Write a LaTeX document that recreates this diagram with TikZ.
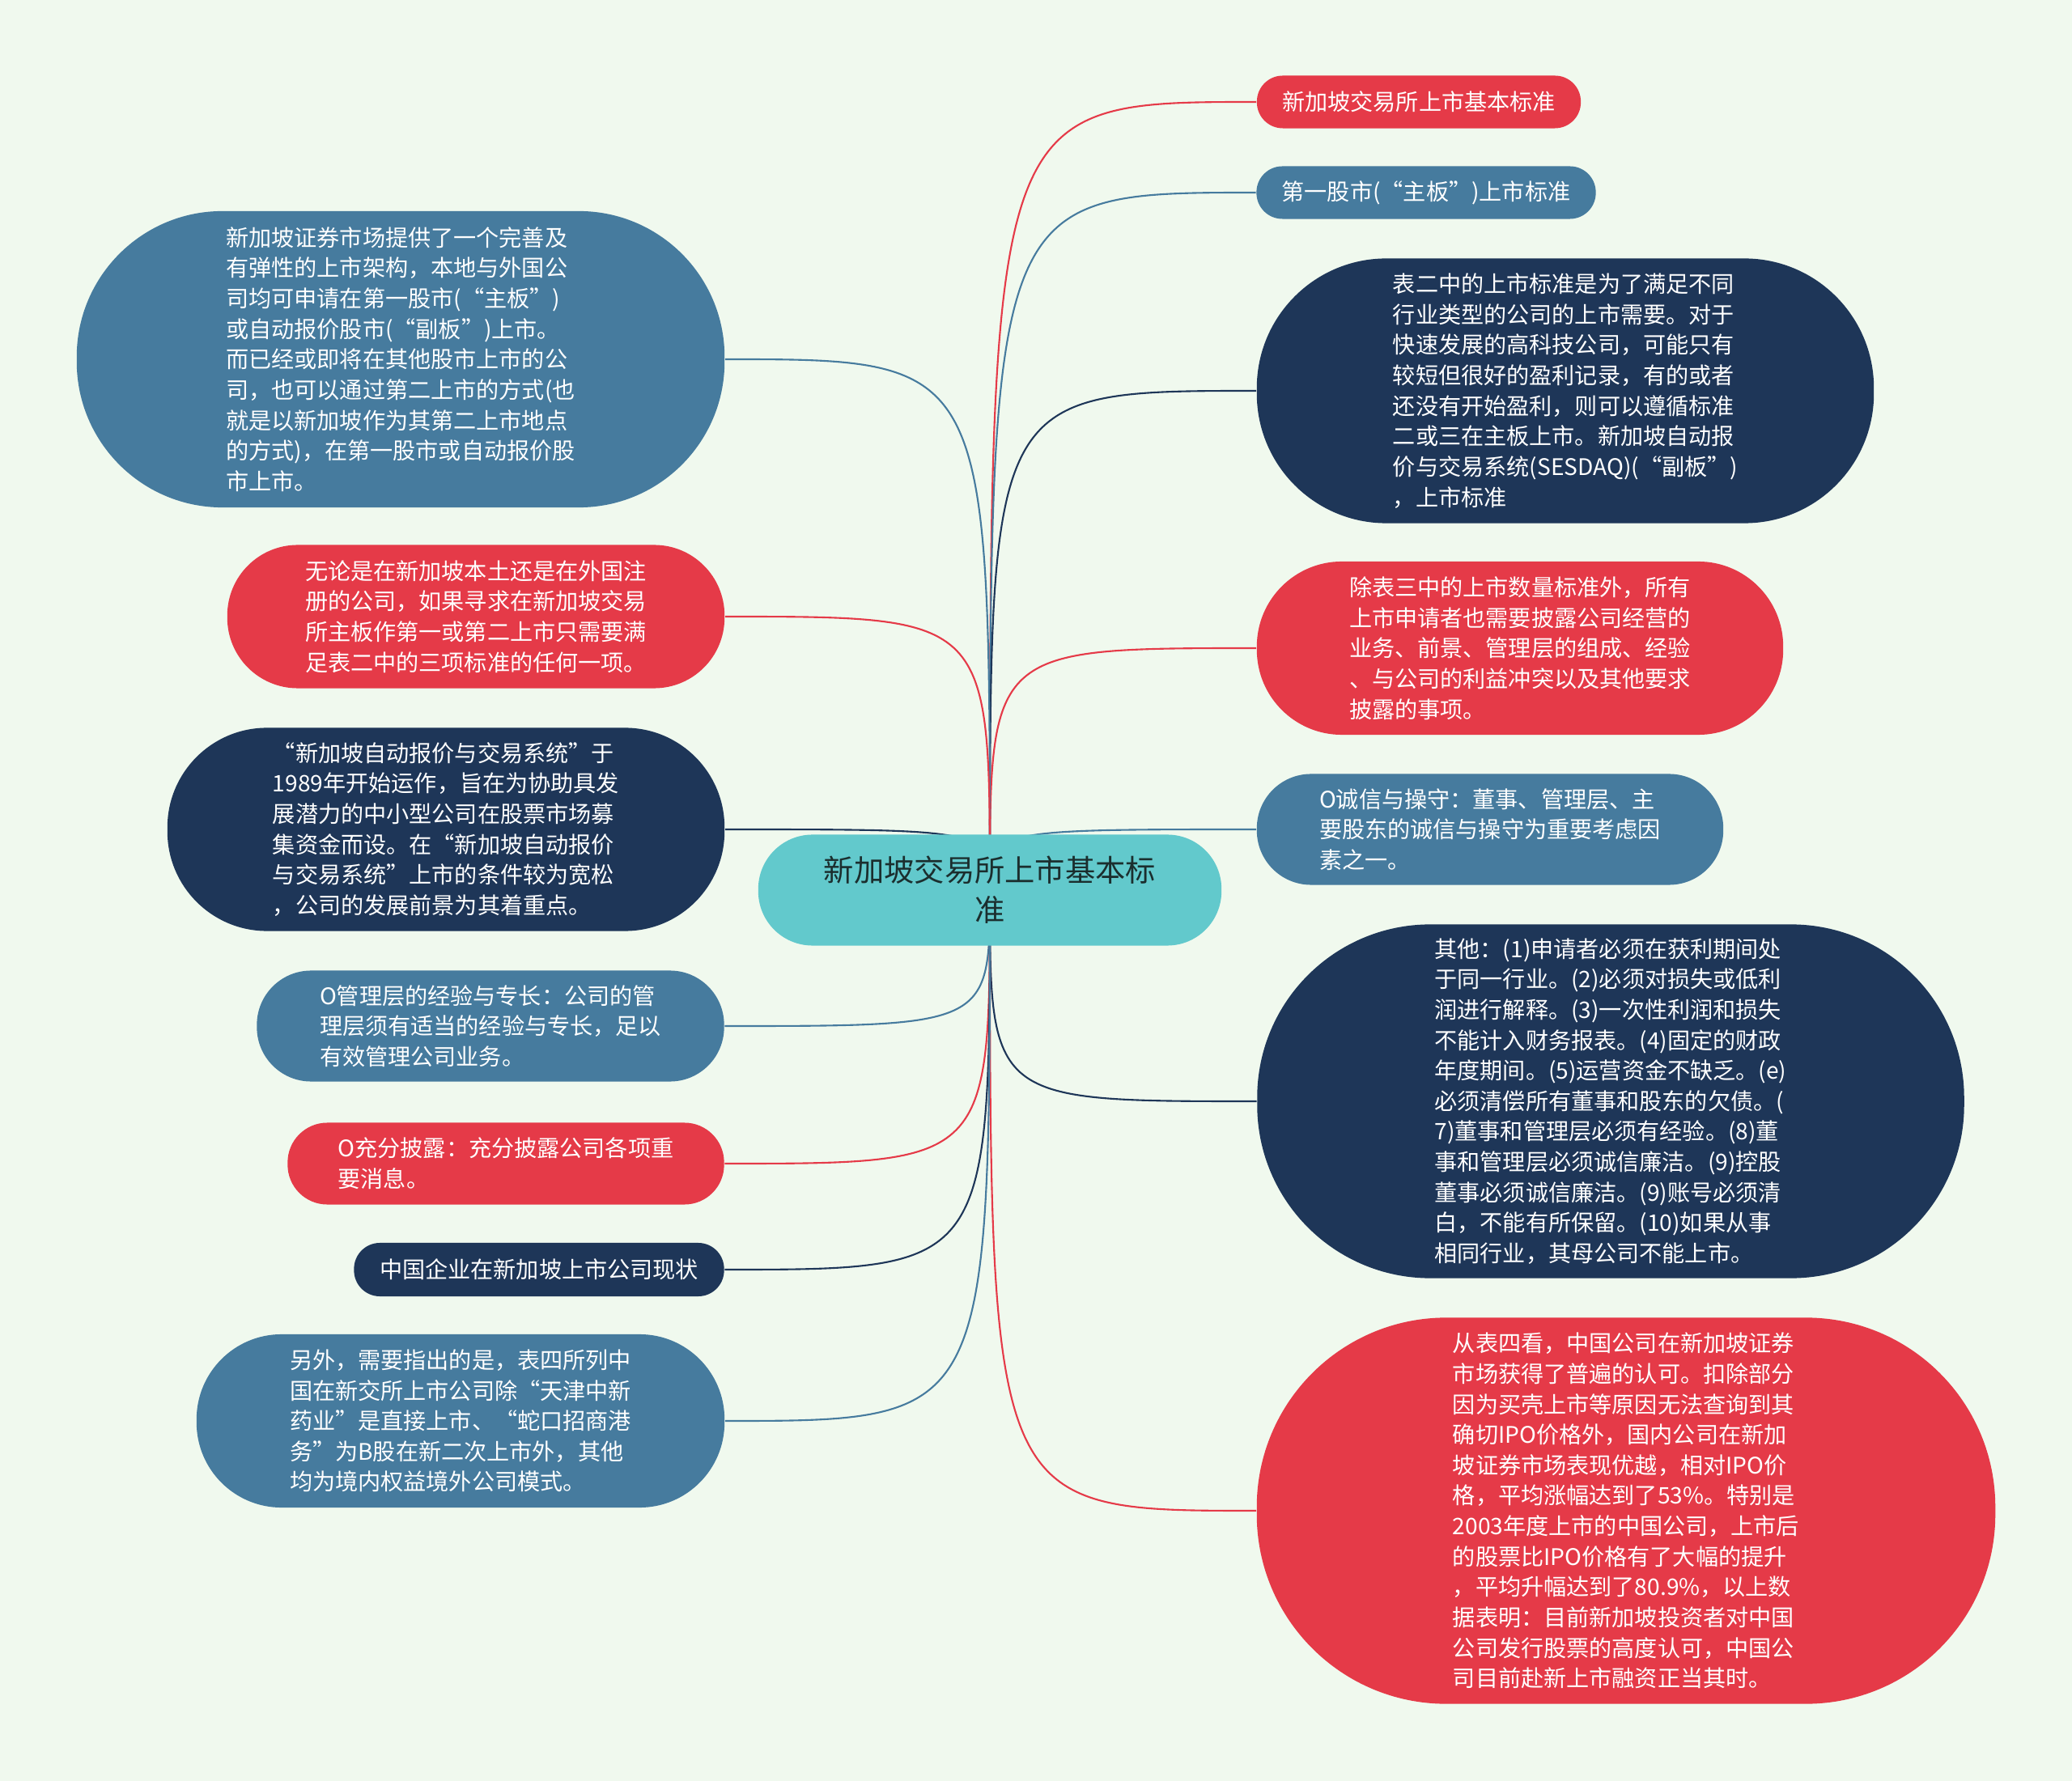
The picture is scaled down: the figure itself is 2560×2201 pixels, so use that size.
\documentclass[tikz,border=0pt]{standalone}
\usepackage{fontspec}
\setmainfont{Noto Sans CJK SC}
\usepackage{xcolor}
\usepackage{tikz}
\usetikzlibrary{backgrounds,positioning}
\definecolor{bgmint}{HTML}{F0F9EE}
\definecolor{mapred}{HTML}{E53A48}
\definecolor{mapblue}{HTML}{467B9E}
\definecolor{mapnavy}{HTML}{1E3658}
\definecolor{mapteal}{HTML}{62C9CC}
\definecolor{topicink}{HTML}{1B2E2E}
\tikzset{
  leafbox/.style={
    inner sep=0pt,
    align=left,
    text=white,
    font=\fontsize{8}{10.7}\selectfont
  },
  redbox/.style={leafbox, fill=mapred},
  bluebox/.style={leafbox, fill=mapblue},
  navybox/.style={leafbox, fill=mapnavy},
  topicbox/.style={
    inner sep=0pt,
    align=center,
    fill=mapteal,
    text=topicink,
    font=\fontsize{10.6}{14}\selectfont
  },
  link/.style={line width=0.6pt}
}

\begin{document}
\begin{tikzpicture}[x=0.01cm, y=-0.01cm]
\useasboundingbox (0,0) rectangle (2560,2201);

% centre
\node[topicbox, minimum width=5.72cm, minimum height=1.37cm, rounded corners=0.67cm] (centre) at (1223,1100) {新加坡交易所上市基本标\\准};

% right side
\node[redbox, minimum width=4.00cm, minimum height=0.65cm, rounded corners=0.32cm] (r1) at (1753,126) {新加坡交易所上市基本标准};
\node[bluebox, minimum width=4.19cm, minimum height=0.65cm, rounded corners=0.32cm] (r2) at (1762,238) {第一股市(“主板”)上市标准};
\node[navybox, minimum width=7.62cm, minimum height=3.27cm, rounded corners=1.6cm] (r3) at (1934,483) {表二中的上市标准是为了满足不同\\行业类型的公司的上市需要。对于\\快速发展的高科技公司，可能只有\\较短但很好的盈利记录，有的或者\\还没有开始盈利，则可以遵循标准\\二或三在主板上市。新加坡自动报\\价与交易系统(SESDAQ)(“副板”)\\，上市标准};
\node[redbox, minimum width=6.50cm, minimum height=2.14cm, rounded corners=1.05cm] (r4) at (1878,801) {除表三中的上市数量标准外，所有\\上市申请者也需要披露公司经营的\\业务、前景、管理层的组成、经验\\、与公司的利益冲突以及其他要求\\披露的事项。};
\node[bluebox, minimum width=5.76cm, minimum height=1.37cm, rounded corners=0.67cm] (r5) at (1841,1025) {O诚信与操守：董事、管理层、主\\要股东的诚信与操守为重要考虑因\\素之一。};
\node[navybox, minimum width=8.73cm, minimum height=4.37cm, rounded corners=2.14cm] (r6) at (1990,1361) {其他：(1)申请者必须在获利期间处\\于同一行业。(2)必须对损失或低利\\润进行解释。(3)一次性利润和损失\\不能计入财务报表。(4)固定的财政\\年度期间。(5)运营资金不缺乏。(e)\\必须清偿所有董事和股东的欠债。(\\7)董事和管理层必须有经验。(8)董\\事和管理层必须诚信廉洁。(9)控股\\董事必须诚信廉洁。(9)账号必须清\\白，不能有所保留。(10)如果从事\\相同行业，其母公司不能上市。};
\node[redbox, minimum width=9.12cm, minimum height=4.77cm, rounded corners=2.34cm] (r7) at (2009,1867) {从表四看，中国公司在新加坡证券\\市场获得了普遍的认可。扣除部分\\因为买壳上市等原因无法查询到其\\确切IPO价格外，国内公司在新加\\坡证券市场表现优越，相对IPO价\\格，平均涨幅达到了53\%。特别是\\2003年度上市的中国公司，上市后\\的股票比IPO价格有了大幅的提升\\，平均升幅达到了80.9\%，以上数\\据表明：目前新加坡投资者对中国\\公司发行股票的高度认可，中国公\\司目前赴新上市融资正当其时。};

% left side
\node[bluebox, minimum width=8.00cm, minimum height=3.66cm, rounded corners=1.8cm] (l1) at (495,444) {新加坡证券市场提供了一个完善及\\有弹性的上市架构，本地与外国公\\司均可申请在第一股市(“主板”)\\或自动报价股市(“副板”)上市。\\而已经或即将在其他股市上市的公\\司，也可以通过第二上市的方式(也\\就是以新加坡作为其第二上市地点\\的方式)，在第一股市或自动报价股\\市上市。};
\node[redbox, minimum width=6.14cm, minimum height=1.77cm, rounded corners=0.87cm] (l2) at (588,762) {无论是在新加坡本土还是在外国注\\册的公司，如果寻求在新加坡交易\\所主板作第一或第二上市只需要满\\足表二中的三项标准的任何一项。};
\node[navybox, minimum width=6.88cm, minimum height=2.51cm, rounded corners=1.23cm] (l3) at (551,1025) {“新加坡自动报价与交易系统”于\\1989年开始运作，旨在为协助具发\\展潜力的中小型公司在股票市场募\\集资金而设。在“新加坡自动报价\\与交易系统”上市的条件较为宽松\\，公司的发展前景为其着重点。};
\node[bluebox, minimum width=5.77cm, minimum height=1.37cm, rounded corners=0.67cm] (l4) at (606,1268) {O管理层的经验与专长：公司的管\\理层须有适当的经验与专长，足以\\有效管理公司业务。};
\node[redbox, minimum width=5.39cm, minimum height=1.01cm, rounded corners=0.49cm] (l5) at (625,1438) {O充分披露：充分披露公司各项重\\要消息。};
\node[navybox, minimum width=4.57cm, minimum height=0.66cm, rounded corners=0.32cm] (l6) at (666,1569) {中国企业在新加坡上市公司现状};
\node[bluebox, minimum width=6.52cm, minimum height=2.14cm, rounded corners=1.05cm] (l7) at (569,1756) {另外，需要指出的是，表四所列中\\国在新交所上市公司除“天津中新\\药业”是直接上市、“蛇口招商港\\务”为B股在新二次上市外，其他\\均为境内权益境外公司模式。};

\begin{scope}[on background layer]
\fill[bgmint] (0,0) rectangle (2560,2201);
\draw[link, mapred] (centre.center) .. controls (centre.center |- r1.west) .. (r1.west);
\draw[link, mapblue] (centre.center) .. controls (centre.center |- r2.west) .. (r2.west);
\draw[link, mapnavy] (centre.center) .. controls (centre.center |- r3.west) .. (r3.west);
\draw[link, mapred] (centre.center) .. controls (centre.center |- r4.west) .. (r4.west);
\draw[link, mapblue] (centre.center) .. controls (centre.center |- r5.west) .. (r5.west);
\draw[link, mapnavy] (centre.center) .. controls (centre.center |- r6.west) .. (r6.west);
\draw[link, mapred] (centre.center) .. controls (centre.center |- r7.west) .. (r7.west);
\draw[link, mapblue] (centre.center) .. controls (centre.center |- l1.east) .. (l1.east);
\draw[link, mapred] (centre.center) .. controls (centre.center |- l2.east) .. (l2.east);
\draw[link, mapnavy] (centre.center) .. controls (centre.center |- l3.east) .. (l3.east);
\draw[link, mapblue] (centre.center) .. controls (centre.center |- l4.east) .. (l4.east);
\draw[link, mapred] (centre.center) .. controls (centre.center |- l5.east) .. (l5.east);
\draw[link, mapnavy] (centre.center) .. controls (centre.center |- l6.east) .. (l6.east);
\draw[link, mapblue] (centre.center) .. controls (centre.center |- l7.east) .. (l7.east);
\end{scope}
\end{tikzpicture}
\end{document}
